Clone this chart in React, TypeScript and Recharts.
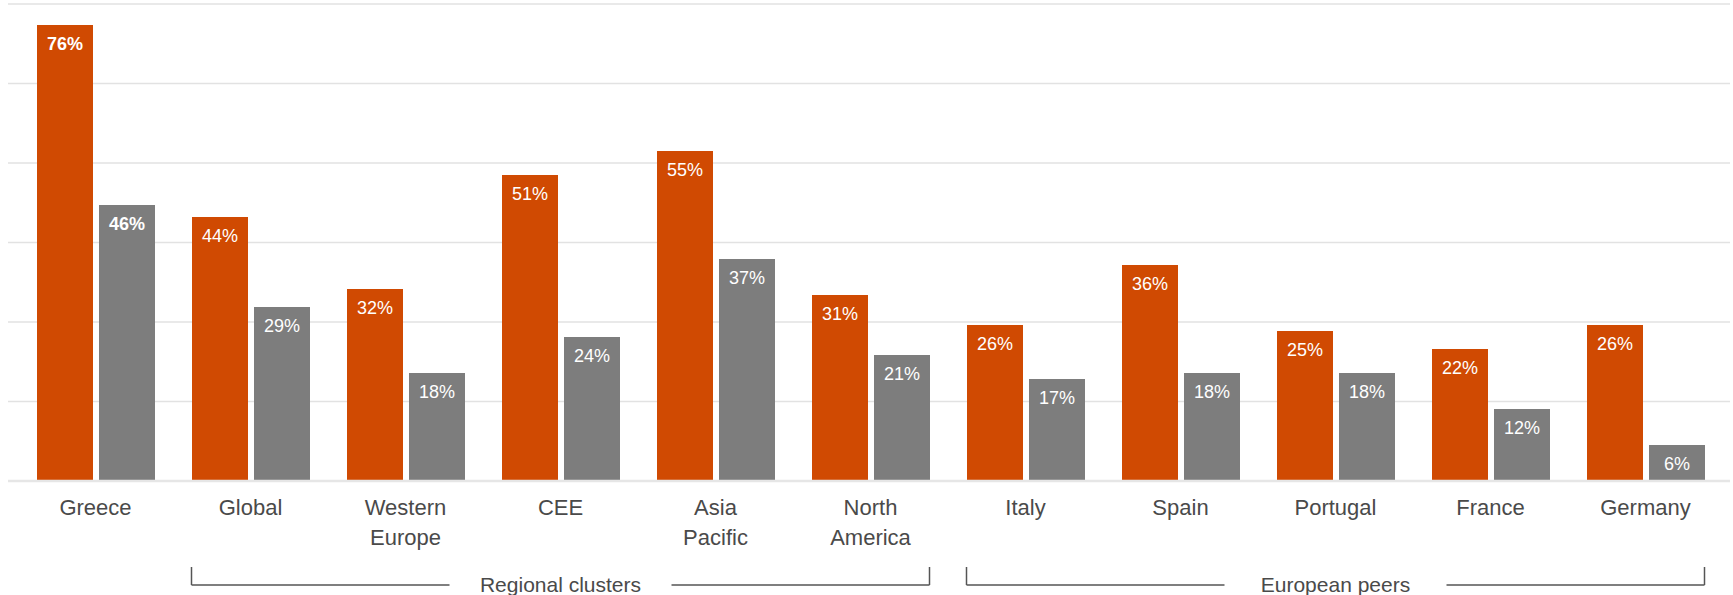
import React from 'react';
import { BarChart, Bar, XAxis, YAxis, CartesianGrid, LabelList } from 'recharts';

const categories = ['Greece', 'Global', 'Western Europe', 'CEE', 'Asia Pacific', 'North America', 'Italy', 'Spain', 'Portugal', 'France', 'Germany'];
const seriesA = [76, 44, 32, 51, 55, 31, 26, 36, 25, 22, 26];
const seriesB = [46, 29, 18, 24, 37, 21, 17, 18, 18, 12, 6];
const yTicks = [0, 13.25, 26.5, 39.75, 53, 66.25, 79.5];
const groupLabels = ['Regional clusters', 'European peers'];
const groupStart = [1, 6];
const groupEnd = [5, 10];

const data = categories.map((c, i) => ({ name: c, a: seriesA[i], b: seriesB[i] }));

const FONT = '"Liberation Sans", Arial, Helvetica, sans-serif';
const ORANGE = '#d04a02';
const GRAY = '#7d7d7d';
const BAR_SIZE = 56;
const BAR_GAP = 6;
const HALF_PAIR = BAR_SIZE + BAR_GAP / 2;
const TEXT_GAP = 111;
const BRACKET = '#555555';

const CategoryTick = (props: any) => {
  const { x, y, payload } = props;
  const name: string = payload.value;
  const idx = categories.indexOf(name);
  const off = payload.offset || 77.5;
  const words = name.split(' ');
  const pieces: any[] = [];
  groupLabels.forEach((label, g) => {
    const s = groupStart[g];
    const e = groupEnd[g];
    if (idx < s || idx > e) return;
    const yv0 = y + 86;
    const yh = y + 104;
    let x0 = x - off;
    let x1 = x + off;
    const c = (s + e) / 2;
    const cx = x + (c - idx) * 2 * off;
    if (idx === s) {
      x0 = x - HALF_PAIR;
      pieces.push(<line key={'vs' + g} x1={x0} x2={x0} y1={yv0} y2={yh} stroke={BRACKET} strokeWidth={1.5} />);
    }
    if (idx === e) {
      x1 = x + HALF_PAIR;
      pieces.push(<line key={'ve' + g} x1={x1} x2={x1} y1={yv0} y2={yh} stroke={BRACKET} strokeWidth={1.5} />);
    }
    const gl = cx - TEXT_GAP;
    const gr = cx + TEXT_GAP;
    // segment [x0, x1] minus [gl, gr]
    const segs: [number, number][] = [];
    if (x0 < gl) segs.push([x0, Math.min(x1, gl)]);
    if (x1 > gr) segs.push([Math.max(x0, gr), x1]);
    segs.forEach((sg, k) => {
      if (sg[1] > sg[0]) {
        pieces.push(<line key={'h' + g + '-' + k} x1={sg[0]} x2={sg[1]} y1={yh} y2={yh} stroke={BRACKET} strokeWidth={1.5} />);
      }
    });
    if (idx === c) {
      pieces.push(
        <text key={'t' + g} x={x} y={y + 111} textAnchor="middle" fontFamily={FONT} fontSize={21} fill="#4a4a4a">
          {label}
        </text>
      );
    }
  });
  return (
    <g>
      {words.map((w, i) => (
        <text key={i} x={x} y={y + 34 + i * 30} textAnchor="middle" fontFamily={FONT} fontSize={22} fill="#4a4a4a">
          {w}
        </text>
      ))}
      {pieces}
    </g>
  );
};

const BarLabel = (props: any) => {
  const { x, y, width, value, index } = props;
  return (
    <text
      x={x + width / 2}
      y={y + 25}
      textAnchor="middle"
      fontFamily={FONT}
      fontSize={18}
      fontWeight={index === 0 ? 'bold' : 'normal'}
      fill="#ffffff"
    >
      {value + '%'}
    </text>
  );
};

export default function App() {
  return (
    <div style={{ position: 'absolute', left: 0, top: 0, width: 1733, height: 595, background: '#fff' }}>
      <BarChart
        width={1733}
        height={595}
        data={data}
        margin={{ top: 4, right: 3, left: 8, bottom: 0 }}
        barSize={BAR_SIZE}
        barGap={BAR_GAP}
      >
        <CartesianGrid horizontal={true} vertical={false} stroke="#e2e2e2" strokeWidth={1.5} />
        <YAxis hide width={0} domain={[0, 79.5]} ticks={yTicks} />
        <XAxis
          dataKey="name"
          interval={0}
          height={114}
          padding={{ left: 10, right: 7 }}
          axisLine={{ stroke: '#e6e6e6', strokeWidth: 2.5 }}
          tickLine={false}
          tickSize={0}
          tickMargin={0}
          tick={<CategoryTick />}
        />
        <Bar dataKey="a" fill={ORANGE} isAnimationActive={false}>
          <LabelList dataKey="a" content={<BarLabel />} />
        </Bar>
        <Bar dataKey="b" fill={GRAY} isAnimationActive={false}>
          <LabelList dataKey="b" content={<BarLabel />} />
        </Bar>
      </BarChart>
    </div>
  );
}
